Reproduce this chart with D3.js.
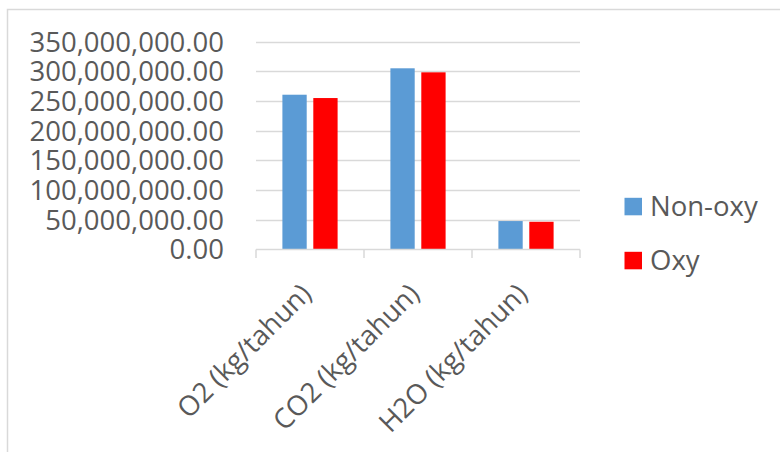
<!DOCTYPE html>
<html>
<head>
<meta charset="utf-8">
<script src="https://cdn.jsdelivr.net/npm/d3@7"></script>
<style>
  html, body { margin: 0; padding: 0; background: #ffffff; }
  svg { display: block; }
  text { font-family: "Open Sans", "Liberation Sans", sans-serif; fill: #595959; }
</style>
</head>
<body>
<svg id="chart" width="780" height="452"></svg>
<script>
// Emission data per year
const categories = ["O2 (kg/tahun)", "CO2 (kg/tahun)", "H2O (kg/tahun)"];
const seriesNames = ["Non-oxy", "Oxy"];
const nonOxy = [260700000, 305200000, 47900000];
const oxy = [255100000, 298400000, 46700000];
const yTicks = [0, 50000000, 100000000, 150000000, 200000000, 250000000, 300000000, 350000000];
const colors = ["#5b9bd5", "#ff0000"];

const svg = d3.select("#chart");

// Chart frame
svg.append("rect")
  .attr("x", 7.5).attr("y", 9.5)
  .attr("width", 800).attr("height", 500)
  .attr("fill", "none").attr("stroke", "#d9d9d9").attr("stroke-width", 1.5);

const plot = { left: 256, right: 580, top: 41.7, bottom: 249.5 };

const x = d3.scaleBand().domain(categories).range([plot.left, plot.right]).padding(0);
const y = d3.scaleLinear().domain([0, 350000000]).range([plot.bottom, plot.top]);

// Gridlines
svg.append("g").selectAll("line").data(yTicks.filter(d => d > 0)).join("line")
  .attr("x1", plot.left).attr("x2", plot.right)
  .attr("y1", d => Math.round(y(d)) + 0.5).attr("y2", d => Math.round(y(d)) + 0.5)
  .attr("stroke", "#d9d9d9").attr("stroke-width", 1.5);

// Y axis labels
const fmt = d3.format(",.2f");
svg.append("g").selectAll("text").data(yTicks).join("text")
  .attr("x", 224).attr("y", d => y(d))
  .attr("dy", "0.36em")
  .attr("text-anchor", "end")
  .attr("font-size", 27.5)
  .text(d => fmt(d));

// Bars
const series = [nonOxy, oxy];
const barW = 24.3;
const gap = 6.6;
const groupW = barW * 2 + gap;
series.forEach((vals, si) => {
  svg.append("g").selectAll("rect").data(vals).join("rect")
    .attr("x", (d, i) => x(categories[i]) + (x.bandwidth() - groupW) / 2 + si * (barW + gap))
    .attr("y", d => y(d))
    .attr("width", barW)
    .attr("height", d => y(0) - y(d))
    .attr("fill", colors[si]);
});

// Category axis line and dividers
const axisG = svg.append("g");
axisG.append("line")
  .attr("x1", plot.left).attr("x2", plot.right)
  .attr("y1", plot.bottom).attr("y2", plot.bottom)
  .attr("stroke", "#d9d9d9").attr("stroke-width", 1.5);
const edges = categories.map(c => x(c)).concat([plot.right]);
axisG.selectAll("line.tick").data(edges).join("line")
  .attr("class", "tick")
  .attr("x1", d => d).attr("x2", d => d)
  .attr("y1", plot.bottom).attr("y2", plot.bottom + 8.5)
  .attr("stroke", "#d9d9d9").attr("stroke-width", 1.5);

// Rotated category labels
svg.append("g").selectAll("text").data(categories).join("text")
  .attr("transform", d => `translate(${x(d) + x.bandwidth() / 2 + 3},${plot.bottom + 46}) rotate(-45)`)
  .attr("text-anchor", "end")
  .attr("font-size", 27.5)
  .text(d => d);

// Legend
const legend = svg.append("g");
seriesNames.forEach((name, i) => {
  const ly = 206.5 + i * 54;
  legend.append("rect")
    .attr("x", 624.5).attr("y", ly - 8.7)
    .attr("width", 17.5).attr("height", 17.5)
    .attr("fill", colors[i]);
  legend.append("text")
    .attr("x", 650).attr("y", ly)
    .attr("dy", "0.36em")
    .attr("font-size", 27.5)
    .text(name);
});
</script>
</body>
</html>
